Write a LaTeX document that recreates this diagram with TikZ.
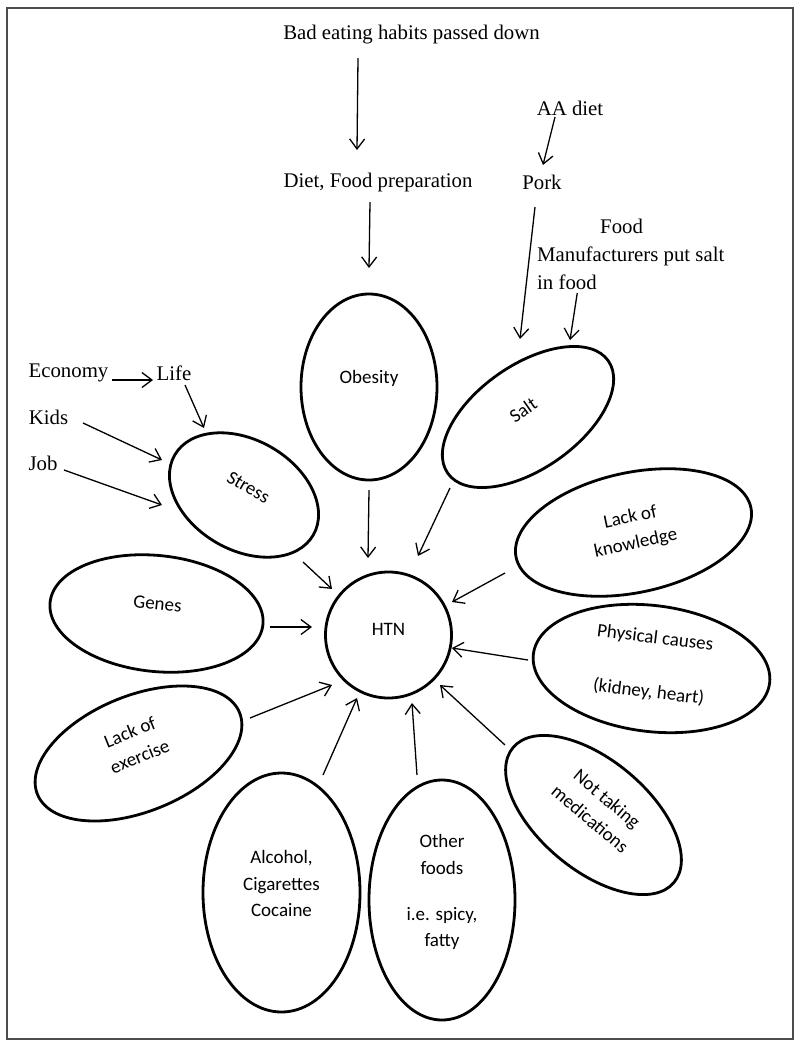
\documentclass[tikz,border=0pt]{standalone}
\usepackage{fontspec}
\setmainfont{Liberation Serif}
\newfontfamily\calib{Carlito}
\usetikzlibrary{arrows.meta,shapes.geometric}
\begin{document}
\begin{tikzpicture}[x=1pt,y=-1pt,
  serif/.style={font=\fontsize{20.8}{28}\selectfont, inner sep=0pt, align=left},
  lbl/.style={font=\calib\fontsize{19}{26.5}\selectfont, align=center, inner sep=0pt},
  oval/.style={ellipse, draw, line width=2.8pt, inner sep=0pt},
  arr/.style={-{Straight Barb[length=10pt,width=15pt]}, line width=1.3pt},
  frame/.style={draw=black!70, line width=1.2pt}
]
\useasboundingbox (0,0) rectangle (800,1045);
\draw[frame] (7,8) rectangle (793,1039);

% serif text nodes
\node[serif] (bad) at (411.5,35) {Bad eating habits passed down};
\node[serif] (diet) at (378,182) {Diet, Food preparation};
\node[serif] (aa) at (570,108) {AA diet};
\node[serif] (pork) at (542,182) {Pork};
\node[serif, anchor=west] (fm) at (537,254) {\hspace*{63pt}Food\\Manufacturers put salt\\in food};
\node[serif] (economy) at (68.5,373) {Economy};
\node[serif] (life) at (174,373) {Life};
\node[serif] (kids) at (48.5,417) {Kids};
\node[serif] (job) at (43,463) {Job};

% ellipses
\node[oval, minimum width=136pt, minimum height=186pt] (obesity) at (369,387) {};
\node[lbl, yshift=9pt] (obesity-t) at (obesity.center) {Obesity};

\node[oval, minimum width=196pt, minimum height=104pt, rotate=35] (salt) at (528,417) {};
\node[lbl, rotate=35, yshift=8.6pt] (salt-t) at (salt.center) {Salt};

\node[oval, minimum width=160pt, minimum height=110pt, rotate=-30] (stress) at (244,495) {};
\node[lbl, rotate=-30, yshift=9pt] (stress-t) at (stress.center) {Stress};

\node[oval, minimum width=240pt, minimum height=120pt, rotate=12] (know) at (633.5,532.5) {};
\node[lbl, rotate=12, yshift=2pt] (know-t) at (know.center) {Lack of\\knowledge};

\node[oval, minimum width=214pt, minimum height=116pt, rotate=-6] (genes) at (156.5,613.5) {};
\node[lbl, rotate=-6, yshift=10pt] (genes-t) at (genes.center) {Genes};

\node[circle, draw, line width=2.8pt, inner sep=0pt, minimum size=126pt] (htn) at (388.5,635) {};
\node[lbl, yshift=6pt] (htn-t) at (htn.center) {HTN};

\node[oval, minimum width=238pt, minimum height=126pt, rotate=-7] (phys) at (651.5,668.5) {};
\node[lbl, rotate=-7, yshift=3pt] (phys-t) at (phys.center) {Physical causes\\[28pt](kidney, heart)};

\node[oval, minimum width=218pt, minimum height=116pt, rotate=22] (exer) at (138.5,753.5) {};
\node[lbl, rotate=22, yshift=10pt] (exer-t) at (exer.center) {Lack of\\exercise};

\node[oval, minimum width=210pt, minimum height=110pt, rotate=-40] (notake) at (593.5,815) {};
\node[lbl, rotate=-40, yshift=8pt] (notake-t) at (notake.center) {Not taking\\medications};

\node[oval, minimum width=157pt, minimum height=239pt] (alc) at (281.5,892.5) {};
\node[lbl, yshift=9pt] (alc-t) at (alc.center) {Alcohol,\\Cigarettes\\Cocaine};

\node[oval, minimum width=146pt, minimum height=240pt] (other) at (442,900) {};
\node[lbl, yshift=8pt] (other-t) at (other.center) {Other\\foods\\[19.5pt]i.e. spicy,\\fatty};

% connectors
\draw[arr] ([shift={(-53.5,23)}]bad.center) -- ([shift={(-21,-32)}]diet.center);
\draw[arr] ([shift={(-8,20)}]diet.center) -- ([shift={(0,-119)}]obesity.center);
\draw[arr] ([shift={(-15,9)}]aa.center) -- ([shift={(1,-17)}]pork.center);
\draw[arr] ([shift={(-7,25)}]pork.center) -- ([shift={(-8,-78)}]salt.center);
\draw[arr] ([shift={(-53.5,39)}]fm.center) -- ([shift={(42,-77)}]salt.center);
\draw[arr] ([shift={(43.5,7)}]economy.center) -- ([shift={(-21,7)}]life.center);
\draw[arr] ([shift={(11,12)}]life.center) -- ([shift={(-40,-67)}]stress.center);
\draw[arr] ([shift={(34.5,6)}]kids.center) -- ([shift={(-82,-35)}]stress.center);
\draw[arr] ([shift={(21,7)}]job.center) -- ([shift={(-82,10)}]stress.center);
\draw[arr] ([shift={(59,67)}]stress.center) -- ([shift={(-56.5,-46)}]htn.center);
\draw[arr] ([shift={(0,103)}]obesity.center) -- ([shift={(-20.5,-77)}]htn.center);
\draw[arr] ([shift={(-78,71)}]salt.center) -- ([shift={(29.5,-79)}]htn.center);
\draw[arr] ([shift={(-128.5,40.5)}]know.center) -- ([shift={(63.5,-33)}]htn.center);
\draw[arr] ([shift={(113.5,13.5)}]genes.center) -- ([shift={(-76.5,-8)}]htn.center);
\draw[arr] ([shift={(111.5,-35.5)}]exer.center) -- ([shift={(-56.5,50)}]htn.center);
\draw[arr] ([shift={(41.5,-117.5)}]alc.center) -- ([shift={(-31.5,63)}]htn.center);
\draw[arr] ([shift={(-25,-125)}]other.center) -- ([shift={(23.5,68)}]htn.center);
\draw[arr] ([shift={(-88.5,-70)}]notake.center) -- ([shift={(51.5,50)}]htn.center);
\draw[arr] ([shift={(-123.5,-8.5)}]phys.center) -- ([shift={(63.5,13)}]htn.center);
\end{tikzpicture}
\end{document}
